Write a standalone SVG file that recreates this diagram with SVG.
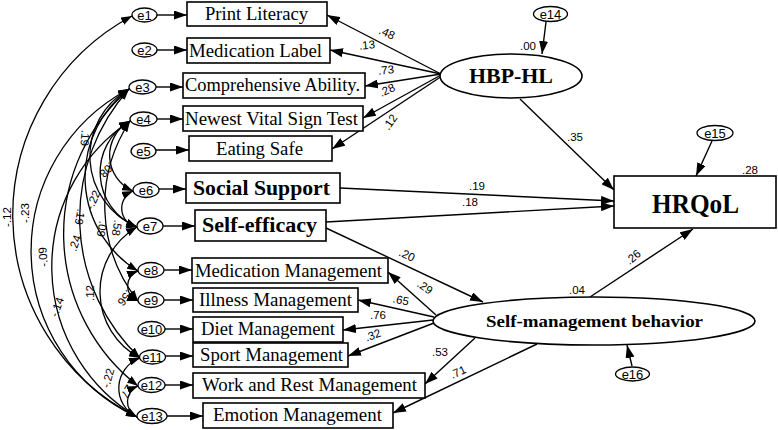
<svg xmlns="http://www.w3.org/2000/svg" width="778" height="430" viewBox="0 0 778 430">
<style>
.box{fill:#fff;stroke:#000;stroke-width:1.6}
.ell{fill:#fff;stroke:#000;stroke-width:1.6}
.err{fill:#fff;stroke:#000;stroke-width:1.3}
.lbl{font-family:"Liberation Serif",serif;font-size:18px;fill:#000}
.blbl{font-family:"Liberation Serif",serif;font-weight:bold;fill:#000}
.et{font-family:"Liberation Sans",Arial,sans-serif;font-size:13px;fill:#000;text-anchor:middle;dominant-baseline:central}
.n{font-family:"Liberation Sans",Arial,sans-serif;font-size:11.5px;fill:#000;text-anchor:middle;dominant-baseline:central}
.c{fill:none;stroke:#000;stroke-width:1.4;marker-end:url(#ah)}
.cv{fill:none;stroke:#000;stroke-width:1.3;marker-start:url(#ahs);marker-end:url(#ahs)}
</style>
<defs>
<marker id="ah" viewBox="0 0 13 9" refX="13" refY="4.5" markerWidth="13" markerHeight="9" markerUnits="userSpaceOnUse" orient="auto-start-reverse"><path d="M0,0 L13,4.5 L0,9 z" fill="#000"/></marker>
<marker id="ahs" viewBox="0 0 11 8" refX="11" refY="4" markerWidth="11" markerHeight="8" markerUnits="userSpaceOnUse" orient="auto-start-reverse"><path d="M0,0 L11,4 L0,8 z" fill="#000"/></marker>
</defs>

<g id="connectors">
<path class="c" d="M157,15 L187,15"/>
<path class="c" d="M157,50 L187,50"/>
<path class="c" d="M156,87 L183,87"/>
<path class="c" d="M157,119 L183,119"/>
<path class="c" d="M156,150 L189,150"/>
<path class="c" d="M159,189 L186,189"/>
<path class="c" d="M163,226 L195,226"/>
<path class="c" d="M164,270 L192,270"/>
<path class="c" d="M164,300 L193,300"/>
<path class="c" d="M165,329 L193,329"/>
<path class="c" d="M165,356 L193,356"/>
<path class="c" d="M165,385 L193,385"/>
<path class="c" d="M167,416 L203,416"/>
<path class="c" d="M441,74 L327,15"/>
<path class="c" d="M441,74 L330,50"/>
<path class="c" d="M441,74 L365,86"/>
<path class="c" d="M441,75 L363,118"/>
<path class="c" d="M442,76 L332,149"/>
<path class="c" d="M546,22 L542,54"/>
<path class="c" d="M712,141 L696,176"/>
<path class="c" d="M632,366 L627,345"/>
<path class="c" d="M520,99 L614,190"/>
<path class="c" d="M340,188 L614,201"/>
<path class="c" d="M326,222 L614,206"/>
<path class="c" d="M326,228 L483,302"/>
<path class="c" d="M590,297 L693,229"/>
<path class="c" d="M436,315 L388,272"/>
<path class="c" d="M434,317 L358,300"/>
<path class="c" d="M433,320 L343,330"/>
<path class="c" d="M434,323 L348,356"/>
<path class="c" d="M475,338 L425,384"/>
<path class="c" d="M537,344 L393,413"/>
<path class="cv" d="M132,16 A226 226 0 0 0 137,417"/>
<path class="cv" d="M129,89 A183 183 0 0 0 137,417"/>
<path class="cv" d="M130,121 A175 175 0 0 0 137,417"/>
<path class="cv" d="M129,89 A193 193 0 0 0 138,386"/>
<path class="cv" d="M129,89 A193 193 0 0 0 140,358"/>
<path class="cv" d="M137,227 A75 75 0 0 0 140,358"/>
<path class="cv" d="M129,89 A77 77 0 0 0 137,227"/>
<path class="cv" d="M130,121 A39 39 0 0 0 133,191"/>
<path class="cv" d="M129,89 A110 110 0 0 0 138,271"/>
<path class="cv" d="M130,121 A59 59 0 0 0 137,227"/>
<path class="cv" d="M130,121 A154 154 0 0 0 138,301"/>
<path class="cv" d="M133,191 A19 19 0 0 0 137,227"/>
<path class="cv" d="M138,271 A16 16 0 0 0 138,301"/>
<path class="cv" d="M140,358 A32 32 0 0 0 137,417"/>
<path class="cv" d="M138,386 A17 17 0 0 0 137,417"/>
</g>

<g id="labels">
<text class="n" transform="rotate(-90 7 217)" x="7" y="217">-.12</text>
<text class="n" transform="rotate(-90 25 213)" x="25" y="213">-.23</text>
<text class="n" transform="rotate(-95 43 257)" x="43" y="257">-.09</text>
<text class="n" transform="rotate(-70 57 307)" x="57" y="307">-.14</text>
<text class="n" transform="rotate(-70 75 243)" x="75" y="243">.24</text>
<text class="n" transform="rotate(-90 90 293)" x="90" y="293">.12</text>
<text class="n" transform="rotate(95 85 138)" x="85" y="138">.19</text>
<text class="n" transform="rotate(100 80 217)" x="80" y="217">.19</text>
<text class="n" transform="rotate(135 107 170)" x="107" y="170">.08</text>
<text class="n" transform="rotate(-65 93 200)" x="93" y="200">-.22</text>
<text class="n" transform="rotate(100 102 229)" x="102" y="229">.09</text>
<text class="n" transform="rotate(100 117 228)" x="117" y="228">.58</text>
<text class="n" transform="rotate(130 125 298)" x="125" y="298">.56</text>
<text class="n" transform="rotate(-75 108 378)" x="108" y="378">-.22</text>
<text class="n" transform="rotate(120 128 390)" x="128" y="390">.27</text>
<text class="n" transform="rotate(25 387 33)" x="387" y="33">.48</text>
<text class="n" transform="rotate(-5 367 45)" x="367" y="45">.13</text>
<text class="n" transform="rotate(-5 386 70)" x="386" y="70">.73</text>
<text class="n" transform="rotate(-25 387 90)" x="387" y="90">.28</text>
<text class="n" transform="rotate(-55 390 122)" x="390" y="122">.12</text>
<text class="n" x="528" y="46">.00</text>
<text class="n" x="750" y="170">.28</text>
<text class="n" x="575" y="137">.35</text>
<text class="n" x="477" y="186">.19</text>
<text class="n" x="470" y="202">.18</text>
<text class="n" transform="rotate(25 407 255)" x="407" y="255">.20</text>
<text class="n" transform="rotate(35 425 287)" x="425" y="287">.29</text>
<text class="n" transform="rotate(12 401 300)" x="401" y="300">.65</text>
<text class="n" x="378" y="315">.76</text>
<text class="n" transform="rotate(-20 373 335)" x="373" y="335">.32</text>
<text class="n" x="440" y="352">.53</text>
<text class="n" transform="rotate(-25 458 372)" x="458" y="372">.71</text>
<text class="n" transform="rotate(-40 633 257)" x="633" y="257">.26</text>
<text class="n" x="577" y="290">.04</text>
</g>

<g id="e1"><ellipse class="err" cx="144.5" cy="15" rx="12.5" ry="7"/><text class="et" x="144.5" y="15">e1</text></g>
<g id="e2"><ellipse class="err" cx="144.5" cy="50" rx="12.5" ry="7"/><text class="et" x="144.5" y="50">e2</text></g>
<g id="e3"><ellipse class="err" cx="142.5" cy="87" rx="13.5" ry="7"/><text class="et" x="142.5" y="87">e3</text></g>
<g id="e4"><ellipse class="err" cx="143.5" cy="119" rx="13.5" ry="7"/><text class="et" x="143.5" y="119">e4</text></g>
<g id="e5"><ellipse class="err" cx="143.5" cy="151" rx="12.5" ry="7.5"/><text class="et" x="143.5" y="151">e5</text></g>
<g id="e6"><ellipse class="err" cx="146" cy="190" rx="13" ry="7.5"/><text class="et" x="146" y="190">e6</text></g>
<g id="e7"><ellipse class="err" cx="150" cy="226" rx="13" ry="8"/><text class="et" x="150" y="226">e7</text></g>
<g id="e8"><ellipse class="err" cx="151" cy="270" rx="13" ry="7.5"/><text class="et" x="151" y="270">e8</text></g>
<g id="e9"><ellipse class="err" cx="151" cy="300" rx="13" ry="7.5"/><text class="et" x="151" y="300">e9</text></g>
<g id="e10"><ellipse class="err" cx="151.5" cy="329" rx="13.5" ry="7.5"/><text class="et" x="151.5" y="329">e10</text></g>
<g id="e11"><ellipse class="err" cx="152.5" cy="357" rx="13" ry="7"/><text class="et" x="152.5" y="357">e11</text></g>
<g id="e12"><ellipse class="err" cx="151.5" cy="385" rx="13.5" ry="7.5"/><text class="et" x="151.5" y="385">e12</text></g>
<g id="e13"><ellipse class="err" cx="152" cy="416" rx="15" ry="7.5"/><text class="et" x="152" y="416">e13</text></g>
<g id="e14"><ellipse class="err" cx="550.5" cy="14" rx="17" ry="7.5"/><text class="et" x="550.5" y="14">e14</text></g>
<g id="e15"><ellipse class="err" cx="715" cy="133" rx="18" ry="7.5"/><text class="et" x="715" y="133">e15</text></g>
<g id="e16"><ellipse class="err" cx="632.5" cy="374" rx="17" ry="7"/><text class="et" x="632.5" y="374">e16</text></g>

<g id="print-literacy"><rect class="box" x="187" y="2" width="140" height="24"/><text class="lbl" x="256.5" y="20" text-anchor="middle" textLength="103" lengthAdjust="spacingAndGlyphs">Print Literacy</text></g>
<g id="medication-label"><rect class="box" x="187" y="38" width="143" height="25"/><text class="lbl" x="255.5" y="57" text-anchor="middle" textLength="133" lengthAdjust="spacingAndGlyphs">Medication Label</text></g>
<g id="comprehensive-ability"><rect class="box" x="183" y="73" width="182" height="25"/><text class="lbl" x="272.5" y="91" text-anchor="middle" textLength="175" lengthAdjust="spacingAndGlyphs">Comprehensive Ability.</text></g>
<g id="newest-vital-sign"><rect class="box" x="183" y="106" width="180" height="25"/><text class="lbl" x="271.5" y="125" text-anchor="middle" textLength="173" lengthAdjust="spacingAndGlyphs">Newest Vital Sign Test</text></g>
<g id="eating-safe"><rect class="box" x="189" y="136" width="143" height="25"/><text class="lbl" x="259.5" y="155" text-anchor="middle" textLength="87" lengthAdjust="spacingAndGlyphs">Eating Safe</text></g>
<g id="social-support"><rect class="box" x="186" y="173" width="154" height="30"/><text class="blbl" x="261.5" y="195" font-size="20" text-anchor="middle" textLength="137" lengthAdjust="spacingAndGlyphs">Social Support</text></g>
<g id="self-efficacy"><rect class="box" x="195" y="210" width="131" height="31"/><text class="blbl" x="259.5" y="232" font-size="20" text-anchor="middle" textLength="115" lengthAdjust="spacingAndGlyphs">Self-efficacy</text></g>
<g id="medication-management"><rect class="box" x="192" y="258" width="196" height="25"/><text class="lbl" x="288.5" y="277" text-anchor="middle" textLength="187" lengthAdjust="spacingAndGlyphs">Medication Management</text></g>
<g id="illness-management"><rect class="box" x="193" y="288" width="165" height="24"/><text class="lbl" x="275.5" y="306" text-anchor="middle" textLength="153" lengthAdjust="spacingAndGlyphs">Illness Management</text></g>
<g id="diet-management"><rect class="box" x="193" y="317" width="150" height="25"/><text class="lbl" x="268" y="335" text-anchor="middle" textLength="134" lengthAdjust="spacingAndGlyphs">Diet Management</text></g>
<g id="sport-management"><rect class="box" x="193" y="343" width="155" height="24"/><text class="lbl" x="271.5" y="361" text-anchor="middle" textLength="143" lengthAdjust="spacingAndGlyphs">Sport Management</text></g>
<g id="work-rest-management"><rect class="box" x="193" y="373" width="232" height="25"/><text class="lbl" x="309.5" y="391" text-anchor="middle" textLength="215" lengthAdjust="spacingAndGlyphs">Work and Rest Management</text></g>
<g id="emotion-management"><rect class="box" x="203" y="403" width="190" height="25"/><text class="lbl" x="297.5" y="421" text-anchor="middle" textLength="169" lengthAdjust="spacingAndGlyphs">Emotion Management</text></g>

<g id="hbp-hl"><ellipse class="ell" cx="511" cy="76" rx="71" ry="22"/><text class="blbl" x="511" y="83" font-size="21" text-anchor="middle" textLength="84" lengthAdjust="spacingAndGlyphs">HBP-HL</text></g>
<g id="hrqol"><rect class="box" x="614" y="176" width="162" height="52"/><text class="blbl" x="695.5" y="213" font-size="27" text-anchor="middle" textLength="87" lengthAdjust="spacingAndGlyphs">HRQoL</text></g>
<g id="self-management-behavior"><ellipse class="ell" cx="594" cy="321" rx="161" ry="24"/><text class="blbl" x="594.5" y="327" font-size="17" text-anchor="middle" textLength="217" lengthAdjust="spacingAndGlyphs">Self-management behavior</text></g>
</svg>
